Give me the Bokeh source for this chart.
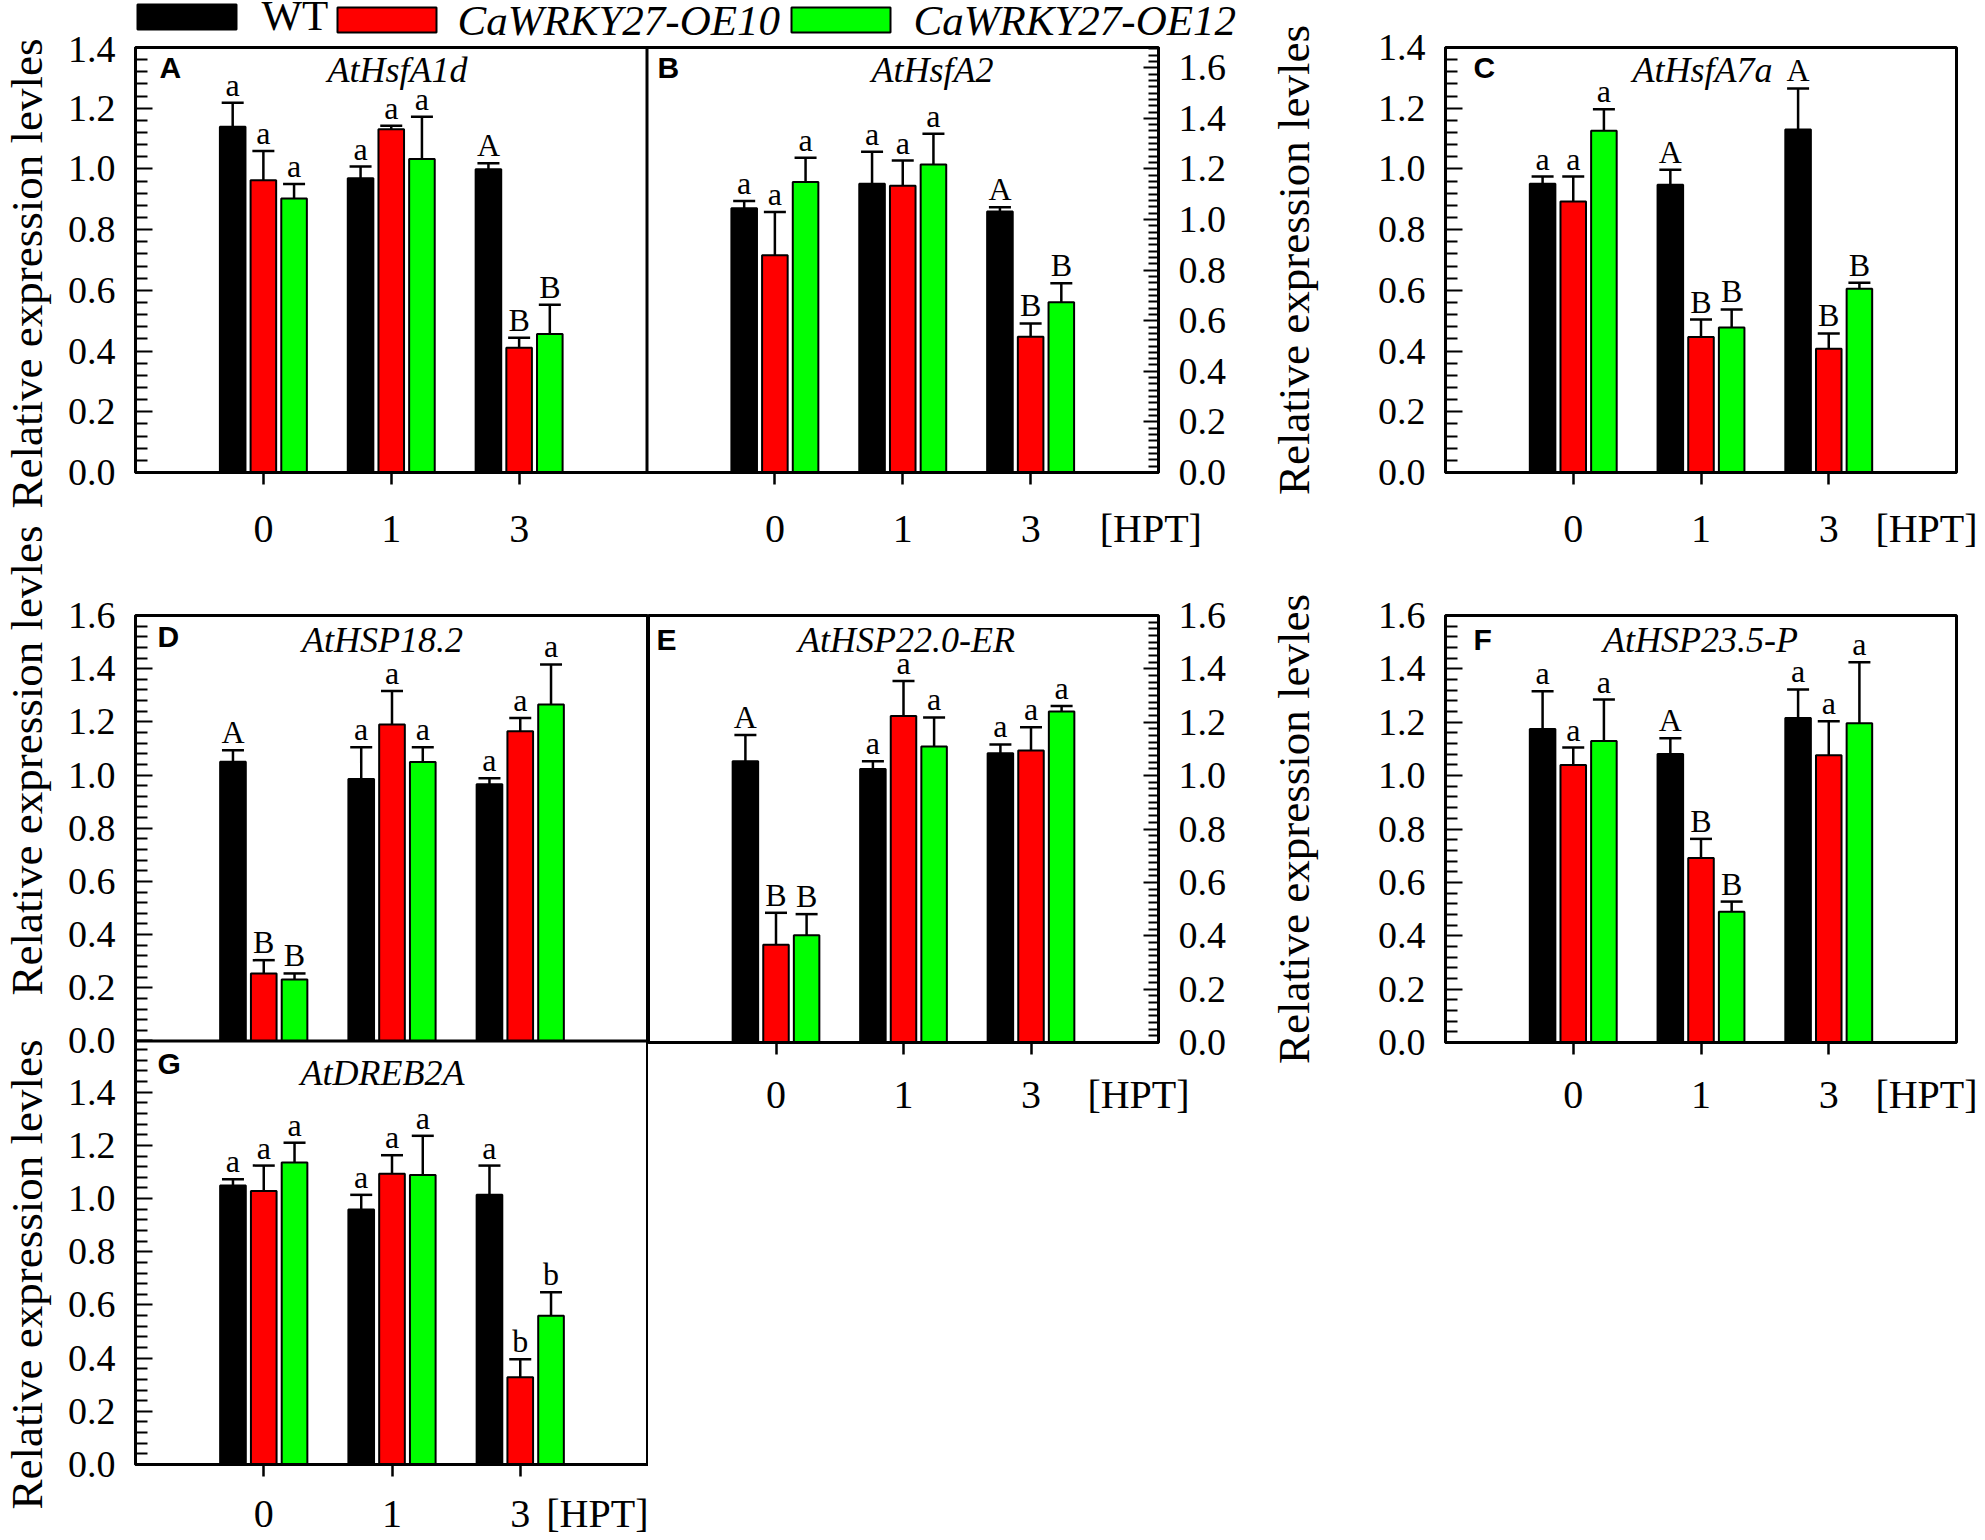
import math
from bokeh.plotting import figure
from bokeh.models import (Range1d, LinearAxis, FixedTicker, Label, ColumnDataSource, Whisker,
                          TeeHead, Span, PrintfTickFormatter, CustomJSTickFormatter, Spacer)
from bokeh.layouts import row, column
from bokeh.embed import file_html
from bokeh.resources import INLINE
from bokeh.core.properties import value

# ---------------- data ----------------
HPT = ["0", "1", "3"]
SERIES = ["WT", "CaWRKY27-OE10", "CaWRKY27-OE12"]
COLORS = ["#000000", "#ff0000", "#00ff00"]
YLABEL = "Relative expression levles"
XUNIT = "[HPT]"

GENE_A = "AtHsfA1d"
A_WT = [1.139, 0.969, 0.999]
A_OE10 = [0.963, 1.131, 0.411]
A_OE12 = [0.903, 1.033, 0.456]
A_WT_SD = [0.079, 0.039, 0.020]
A_OE10_SD = [0.096, 0.011, 0.033]
A_OE12_SD = [0.047, 0.139, 0.097]
A_WT_SIG = ["a", "a", "A"]
A_OE10_SIG = ["a", "a", "B"]
A_OE12_SIG = ["a", "a", "B"]

GENE_B = "AtHsfA2"
B_WT = [1.045, 1.141, 1.032]
B_OE10 = [0.859, 1.134, 0.537]
B_OE12 = [1.148, 1.218, 0.673]
B_WT_SD = [0.028, 0.127, 0.017]
B_OE10_SD = [0.171, 0.099, 0.052]
B_OE12_SD = [0.096, 0.121, 0.075]
B_WT_SIG = ["a", "a", "A"]
B_OE10_SIG = ["a", "a", "B"]
B_OE12_SIG = ["a", "a", "B"]

GENE_C = "AtHsfA7a"
C_WT = [0.951, 0.948, 1.130]
C_OE10 = [0.893, 0.446, 0.408]
C_OE12 = [1.126, 0.478, 0.605]
C_WT_SD = [0.024, 0.049, 0.135]
C_OE10_SD = [0.082, 0.058, 0.050]
C_OE12_SD = [0.071, 0.059, 0.020]
C_WT_SIG = ["a", "A", "A"]
C_OE10_SIG = ["a", "B", "B"]
C_OE12_SIG = ["a", "B", "B"]

GENE_D = "AtHSP18.2"
D_WT = [1.050, 0.985, 0.965]
D_OE10 = [0.254, 1.190, 1.165]
D_OE12 = [0.231, 1.049, 1.265]
D_WT_SD = [0.043, 0.120, 0.023]
D_OE10_SD = [0.050, 0.126, 0.050]
D_OE12_SD = [0.023, 0.056, 0.151]
D_WT_SIG = ["A", "a", "a"]
D_OE10_SIG = ["B", "a", "a"]
D_OE12_SIG = ["B", "a", "a"]

GENE_E = "AtHSP22.0-ER"
E_WT = [1.054, 1.025, 1.084]
E_OE10 = [0.366, 1.223, 1.094]
E_OE12 = [0.402, 1.109, 1.240]
E_WT_SD = [0.098, 0.029, 0.033]
E_OE10_SD = [0.120, 0.132, 0.087]
E_OE12_SD = [0.079, 0.109, 0.021]
E_WT_SIG = ["A", "a", "a"]
E_OE10_SIG = ["B", "a", "a"]
E_OE12_SIG = ["B", "a", "a"]

GENE_F = "AtHSP23.5-P"
F_WT = [1.175, 1.081, 1.216]
F_OE10 = [1.040, 0.691, 1.076]
F_OE12 = [1.130, 0.490, 1.196]
F_WT_SD = [0.141, 0.059, 0.107]
F_OE10_SD = [0.065, 0.072, 0.128]
F_OE12_SD = [0.155, 0.038, 0.229]
F_WT_SIG = ["a", "A", "a"]
F_OE10_SIG = ["a", "B", "a"]
F_OE12_SIG = ["a", "B", "a"]

GENE_G = "AtDREB2A"
G_WT = [1.049, 0.959, 1.014]
G_OE10 = [1.028, 1.093, 0.328]
G_OE12 = [1.136, 1.089, 0.559]
G_WT_SD = [0.024, 0.055, 0.110]
G_OE10_SD = [0.096, 0.070, 0.068]
G_OE12_SD = [0.074, 0.147, 0.089]
G_WT_SIG = ["a", "a", "a"]
G_OE10_SIG = ["a", "a", "b"]
G_OE12_SIG = ["a", "a", "b"]

# ---------------- style / layout constants ----------------
SERIF = "Liberation Serif"
SANS = "Liberation Sans"
DODGE = [-0.24, 0.0, 0.24]
BAR_W = 0.2

# legend band (pixel coordinates inside its own figure)
LEG_SW_LEFT = [137, 337, 791]
LEG_SW_W = 99
LEG_SW_TOP = [4, 7, 7]
LEG_SW_H = 25
LEG_TXT_X = [261, 457, 913]
LEG_TXT_MID = [15, 20, 20]
LEG_TXT_STYLE = ["normal", "italic", "italic"]


def mk(w, h, bl, br, bt, bb, xr, yr, outline=True):
    p = figure(width=w, height=h, x_range=xr, y_range=yr,
               min_border_left=bl, min_border_right=br,
               min_border_top=bt, min_border_bottom=bb,
               x_axis_type=None, y_axis_type=None,
               output_backend="svg", toolbar_location=None)
    p.background_fill_color = "white"
    p.border_fill_color = "white"
    if outline:
        p.outline_line_color = "black"
        p.outline_line_width = 3
    else:
        p.outline_line_color = None
    return p


def draw_bars(p, means, sds, sigs, shift=0, rname="default"):
    for k in range(3):
        xs = [i + 1 + shift + DODGE[k] for i in range(len(HPT))]
        up = [m + s for m, s in zip(means[k], sds[k])]
        src = ColumnDataSource(dict(x=xs, top=means[k], upper=up, sig=sigs[k]))
        p.vbar(x="x", top="top", bottom=0, width=BAR_W, source=src,
               fill_color=COLORS[k], line_color="black", line_width=2,
               y_range_name=rname)
        p.add_layout(Whisker(source=src, base="x", lower="top", upper="upper",
                             dimension="height", line_width=2.5, line_color="black",
                             upper_head=TeeHead(size=22, line_width=2.5, line_color="black"),
                             lower_head=None, y_range_name=rname))
        p.text(x="x", y="upper", text="sig", source=src, text_align="center",
               text_baseline="bottom", text_font=value(SERIF),
               text_font_size="32px", text_color="black", y_range_name=rname)


def seq(top, step):
    n = int(math.floor(top / step + 1e-6))
    return [round(i * step, 4) for i in range(n + 1)]


def minors(top, step, major=0.2):
    out = []
    for t in seq(top, step):
        r = t / major
        if abs(r - round(r)) > 1e-6:
            out.append(t)
    return out


def style_axis(ax, fs):
    ax.axis_line_width = 3
    ax.axis_line_color = "black"
    ax.major_tick_line_width = 2
    ax.minor_tick_line_width = 2
    ax.major_tick_line_color = "black"
    ax.minor_tick_line_color = "black"
    ax.major_label_text_font = SERIF
    ax.major_label_text_font_size = fs
    ax.major_label_text_color = "black"


def add_y(p, side, rname, tick_top, rng_top, mstep, tin, mtin, formatter=None,
          ticks=None, mticks=None, label=None, label_standoff=56):
    if ticks is None:
        ticks = seq(tick_top, 0.2)
    if mticks is None:
        mticks = minors(rng_top, mstep)
    ax = LinearAxis(y_range_name=rname, ticker=FixedTicker(ticks=ticks, minor_ticks=mticks),
                    formatter=formatter or PrintfTickFormatter(format="%.1f"))
    style_axis(ax, "38px")
    ax.major_tick_in = tin
    ax.major_tick_out = 0
    ax.minor_tick_in = mtin
    ax.minor_tick_out = 0
    ax.major_label_standoff = 20
    if label:
        ax.axis_label = label
        ax.axis_label_text_font = SERIF
        ax.axis_label_text_font_size = "45px"
        ax.axis_label_text_font_style = "normal"
        ax.axis_label_text_color = "black"
        ax.axis_label_standoff = label_standoff
    p.add_layout(ax, side)
    return ax


def add_x(p, shifts, hpt_x, standoff):
    pos, over = [], {}
    for s in shifts:
        for i, h in enumerate(HPT):
            pos.append(i + 1 + s)
            over[i + 1 + s] = h
    over[hpt_x] = XUNIT
    # axis line + outward tick marks
    axT = LinearAxis(ticker=FixedTicker(ticks=pos, minor_ticks=[]),
                     formatter=CustomJSTickFormatter(code="return ''"))
    style_axis(axT, "1px")
    axT.major_tick_in = 0
    axT.major_tick_out = 12
    axT.major_tick_line_width = 2.5
    axT.minor_tick_in = 0
    axT.minor_tick_out = 0
    axT.major_label_standoff = 0
    p.add_layout(axT, "below")
    # tick labels (hours) and the unit
    axL = LinearAxis(ticker=FixedTicker(ticks=pos + [hpt_x], minor_ticks=[]),
                     major_label_overrides=over)
    style_axis(axL, "40px")
    axL.axis_line_color = None
    axL.major_tick_line_color = None
    axL.minor_tick_line_color = None
    axL.major_tick_in = 0
    axL.major_tick_out = 0
    axL.minor_tick_in = 0
    axL.minor_tick_out = 0
    axL.major_label_standoff = standoff
    p.add_layout(axL, "below")


def lab(p, text, x, y, font=SERIF, size="40px", style="normal", align="left",
        baseline="middle", angle=0.0):
    p.add_layout(Label(x=x, y=y, x_units="screen", y_units="screen", text=text,
                       text_font=font, text_font_size=size, text_font_style=style,
                       text_align=align, text_baseline=baseline, angle=angle,
                       text_color="black"))


def letter(p, t, x, y):
    lab(p, t, x, y, font=SANS, size="30px", style="bold", baseline="top")


def gene(p, t, x, y):
    lab(p, t, x, y, font=SERIF, size="36px", style="italic", align="center")


def ylab(p, x, y):
    lab(p, YLABEL, x, y, size="45px", align="center", angle=math.pi / 2)


BAND_H = 36
ROW1_H = 542
ROW2_H = 960
TOTAL_H = BAND_H + ROW1_H + ROW2_H
H_TOP = 425
H_D, H_G = 427, 425

# ---------------- left label column ----------------
figLL = mk(60, TOTAL_H, 0, 0, 0, 0, Range1d(0, 1), Range1d(0, 1), outline=False)
ylab(figLL, 26, TOTAL_H - 273)
ylab(figLL, 26, TOTAL_H - 760)
ylab(figLL, 26, TOTAL_H - 1274)

# ---------------- legend band ----------------
band = mk(1190, BAND_H, 0, 0, 0, 0, Range1d(60, 1250), Range1d(BAND_H, 0), outline=False)
band.quad(left=LEG_SW_LEFT, right=[l + LEG_SW_W for l in LEG_SW_LEFT],
          top=LEG_SW_TOP, bottom=[t + LEG_SW_H for t in LEG_SW_TOP],
          fill_color=COLORS, line_color="black", line_width=2)
for k in range(3):
    band.text(x=[LEG_TXT_X[k]], y=[LEG_TXT_MID[k]], text=[SERIES[k]],
              text_font=value(SERIF), text_font_size="43px",
              text_font_style=LEG_TXT_STYLE[k], text_baseline="middle",
              text_align="left", text_color="black")

# ---------------- A + B ----------------
figAB = mk(1190, ROW1_H, 75, 92, 11, ROW1_H - 11 - H_TOP, Range1d(0, 8), Range1d(0, 1.4))
figAB.extra_y_ranges = {"B": Range1d(0, 1.68)}
draw_bars(figAB, [A_WT, A_OE10, A_OE12], [A_WT_SD, A_OE10_SD, A_OE12_SD],
          [A_WT_SIG, A_OE10_SIG, A_OE12_SIG], 0, "default")
draw_bars(figAB, [B_WT, B_OE10, B_OE12], [B_WT_SD, B_OE10_SD, B_OE12_SD],
          [B_WT_SIG, B_OE10_SIG, B_OE12_SIG], 4, "B")
figAB.add_layout(Span(location=4, dimension="height", line_color="black", line_width=3))
add_y(figAB, "left", "default", 1.4, 1.4, 0.04, 17, 12)
add_y(figAB, "right", "B", 1.6, 1.68, 0.025, 15, 10)
add_x(figAB, [0, 4], 7.94, 21)
letter(figAB, "A", 24, H_TOP - 3)
letter(figAB, "B", 522, H_TOP - 3)
gene(figAB, GENE_A, 262, H_TOP - 22)
gene(figAB, GENE_B, 797, H_TOP - 22)

# ---------------- C (full height of the top block) ----------------
C_H = BAND_H + ROW1_H
figC = mk(730, C_H, 195, 24, 47, C_H - 47 - H_TOP, Range1d(0, 4), Range1d(0, 1.4))
draw_bars(figC, [C_WT, C_OE10, C_OE12], [C_WT_SD, C_OE10_SD, C_OE12_SD],
          [C_WT_SIG, C_OE10_SIG, C_OE12_SIG])
add_y(figC, "left", "default", 1.4, 1.4, 0.04, 17, 12, label=YLABEL)
add_x(figC, [0], 3.765, 21)
letter(figC, "C", 28, H_TOP - 3)
gene(figC, GENE_C, 257, H_TOP - 22)

# ---------------- D + G (stacked, shared left axis) ----------------
D_TOP = 1.6
K = H_D / D_TOP
OFF = round(H_G / K, 4)
G_END = round(OFF + D_TOP, 4)
figDG = mk(588, ROW2_H, 75, 0, 37, ROW2_H - 37 - H_D - H_G, Range1d(0, 4), Range1d(0, G_END))
figDG.extra_y_ranges = {"D": Range1d(-OFF, D_TOP)}
draw_bars(figDG, [D_WT, D_OE10, D_OE12], [D_WT_SD, D_OE10_SD, D_OE12_SD],
          [D_WT_SIG, D_OE10_SIG, D_OE12_SIG], 0, "D")
draw_bars(figDG, [G_WT, G_OE10, G_OE12], [G_WT_SD, G_OE10_SD, G_OE12_SD],
          [G_WT_SIG, G_OE10_SIG, G_OE12_SIG], 0, "default")
figDG.add_layout(Span(location=OFF, dimension="width", line_color="black", line_width=3))
g_ticks = seq(1.4, 0.2)
d_ticks = [round(OFF + t, 4) for t in seq(D_TOP, 0.2)]
g_minor = minors(OFF - 0.001, 0.04)
d_minor = [round(OFF + t, 4) for t in minors(D_TOP, 0.04)]
fmt = CustomJSTickFormatter(args=dict(off=OFF),
                            code="const v = tick >= off - 0.001 ? tick - off : tick; return Math.abs(v).toFixed(1);")
add_y(figDG, "left", "default", None, None, None, 17, 12, formatter=fmt,
      ticks=g_ticks + d_ticks, mticks=g_minor + d_minor)
add_x(figDG, [0], 3.727, 14)
letter(figDG, "D", 22, H_D + H_G - 7)
letter(figDG, "G", 22, H_G - 7)
gene(figDG, GENE_D, 247, H_D + H_G - 27)
gene(figDG, GENE_G, 247, H_G - 33)

# ---------------- E ----------------
E_H = 37 + H_D + 90
figE = mk(602, E_H, 0, 92, 37, 90, Range1d(0, 4), Range1d(0, 1.6))
draw_bars(figE, [E_WT, E_OE10, E_OE12], [E_WT_SD, E_OE10_SD, E_OE12_SD],
          [E_WT_SIG, E_OE10_SIG, E_OE12_SIG])
add_y(figE, "right", "default", 1.6, 1.6, 0.025, 15, 10)
add_x(figE, [0], 3.843, 17)
letter(figE, "E", 8, H_D - 7)
gene(figE, GENE_E, 258, H_D - 24)

# ---------------- F ----------------
figF = mk(730, E_H, 195, 24, 37, 90, Range1d(0, 4), Range1d(0, 1.6))
draw_bars(figF, [F_WT, F_OE10, F_OE12], [F_WT_SD, F_OE10_SD, F_OE12_SD],
          [F_WT_SIG, F_OE10_SIG, F_OE12_SIG])
add_y(figF, "left", "default", 1.6, 1.6, 0.04, 17, 12, label=YLABEL)
add_x(figF, [0], 3.765, 17)
letter(figF, "F", 28, H_D - 7)
gene(figF, GENE_F, 255, H_D - 24)

left_top = column(row(band), row(figAB))
top_block = row(left_top, figC)
right_block = column(row(figE, figF), Spacer(width=602 + 730, height=ROW2_H - E_H))
layout = row(figLL, column(top_block, row(figDG, right_block)))

open("out.html", "w").write(file_html(layout, INLINE))
